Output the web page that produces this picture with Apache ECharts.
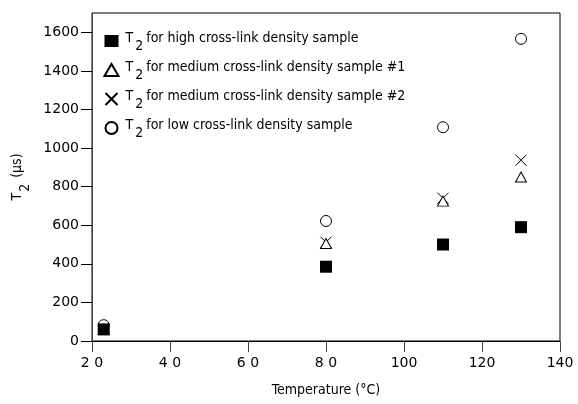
<!DOCTYPE html>
<html>
<head>
<meta charset="utf-8">
<script src="https://cdn.jsdelivr.net/npm/echarts@6/dist/echarts.min.js"></script>
<style>
  html, body { margin: 0; padding: 0; background: #fff; }
  #main { width: 578px; height: 404px; }
</style>
</head>
<body>
<div id="main"></div>
<script>
// data
const seriesNames = [
  'high cross-link density sample',
  'medium cross-link density sample #1',
  'medium cross-link density sample #2',
  'low cross-link density sample'
]
const temps = [23, 80, 110, 130]
const t2High = [60, 385, 500, 590]
const t2Med1 = [62, 505, 725, 850]
const t2Med2 = [65, 512, 740, 937]
const t2Low = [82, 622, 1108, 1566]
const xTicks = [20, 40, 60, 80, 100, 120, 140]
const xTickLabels = ['2 0', '4 0', '6 0', '8 0', '100', '120', '140']
const yTicks = [0, 200, 400, 600, 800, 1000, 1200, 1400, 1600]

const narrow = '"DejaVu Sans Condensed", "Roboto Condensed", "Liberation Sans Narrow", Roboto, sans-serif'
const plain = '"DejaVu Sans", sans-serif'

const symbols = [
  { symbol: 'rect', size: 12, style: { color: '#000', opacity: 1 } },
  { symbol: 'triangle', size: [11, 10], style: { color: '#fff', borderColor: '#000', borderWidth: 1, opacity: 1 } },
  { symbol: 'path://M0,0L10,10M10,0L0,10', size: 11, style: { color: 'none', borderColor: '#000', borderWidth: 1, opacity: 1 } },
  { symbol: 'circle', size: 11, style: { color: '#fff', borderColor: '#000', borderWidth: 1, opacity: 1 } }
]
const allValues = [t2High, t2Med1, t2Med2, t2Low]

const chart = echarts.init(document.getElementById('main'), null, { renderer: 'canvas' })

chart.setOption({
  animation: false,
  grid: {
    left: 92, right: 18, top: 13, bottom: 63,
    show: true, borderColor: '#000', borderWidth: 1
  },
  legend: {
    orient: 'vertical',
    left: 98,
    top: 26,
    itemGap: 7,
    itemWidth: 14,
    itemHeight: 12,
    data: seriesNames,
    formatter: name => '{t|T}{s|2}{n|for ' + name + '}',
    textStyle: {
      color: '#000',
      fontFamily: narrow,
      fontSize: 14,
      rich: {
        t: { fontFamily: narrow, fontSize: 14, padding: [0, 0, 6, 2] },
        s: { fontFamily: narrow, fontSize: 14, padding: [10, 3, 0, 2] },
        n: { fontFamily: narrow, fontSize: 14, padding: [0, 0, 6, 0] }
      }
    }
  },
  xAxis: {
    type: 'value',
    min: 20, max: 140, interval: 20,
    name: 'Temperature (°C)',
    nameLocation: 'middle',
    nameGap: 42,
    nameTextStyle: { fontFamily: narrow, fontSize: 14, color: '#000' },
    splitLine: { show: false },
    axisLine: { onZero: false, lineStyle: { color: '#000' } },
    axisTick: { show: true, inside: false, length: 11, lineStyle: { color: '#444' } },
    axisLabel: {
      margin: 15,
      color: '#000',
      fontFamily: plain,
      fontSize: 14,
      formatter: v => xTickLabels[xTicks.indexOf(v)] || ''
    }
  },
  yAxis: {
    type: 'value',
    min: 0, max: 1700, interval: 200,
    name: '{t|T}{s|2}{n| (μs)}',
    nameLocation: 'middle',
    nameGap: 58,
    nameRotate: 90,
    nameTextStyle: {
      color: '#000',
      rich: {
        t: { fontFamily: narrow, fontSize: 14, padding: [0, 0, 6, 0] },
        s: { fontFamily: narrow, fontSize: 14, padding: [10, 2, 0, 1] },
        n: { fontFamily: narrow, fontSize: 14, padding: [0, 0, 6, 0] }
      }
    },
    splitLine: { show: false },
    axisLine: { show: true, lineStyle: { color: '#444' } },
    axisTick: { show: true, length: 11, customValues: yTicks, lineStyle: { color: '#000' } },
    axisLabel: {
      margin: 13,
      color: '#000',
      fontFamily: plain,
      fontSize: 14,
      customValues: yTicks,
      formatter: v => String(v)
    }
  },
  series: seriesNames.map((name, i) => ({
    name: name,
    type: 'scatter',
    symbol: symbols[i].symbol,
    symbolSize: symbols[i].size,
    itemStyle: symbols[i].style,
    data: temps.map((t, j) => [t, allValues[i][j]]),
    z: 10 - i
  }))
})
</script>
</body>
</html>
